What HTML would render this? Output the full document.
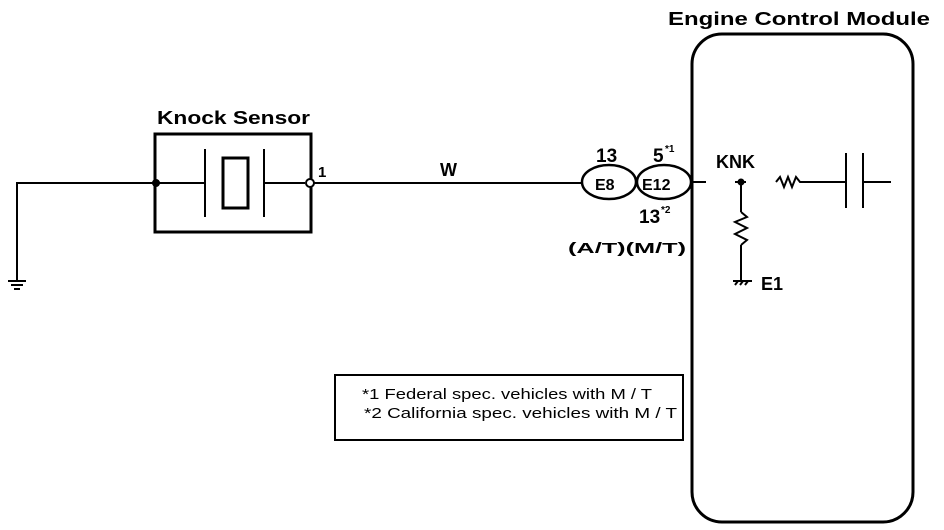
<!DOCTYPE html>
<html><head><style>
html,body{margin:0;padding:0;background:#fff;}
svg{display:block;}
text{font-family:"Liberation Sans",Arial,sans-serif;font-weight:bold;fill:#000;}
</style></head><body>
<svg width="944" height="530" viewBox="0 0 944 530" xmlns="http://www.w3.org/2000/svg">
<g stroke="#000" fill="none" stroke-width="2">
<rect x="692" y="34" width="221" height="488" rx="30" ry="30" stroke-width="3"/>
<rect x="155" y="134" width="156" height="98" stroke-width="3"/>
<polyline points="155,183 17,183 17,280"/>
<line x1="8" y1="281" x2="26" y2="281"/>
<line x1="11" y1="285" x2="23" y2="285"/>
<line x1="14" y1="289" x2="20" y2="289"/>
<line x1="155" y1="183" x2="205" y2="183"/>
<line x1="205" y1="149" x2="205" y2="217"/>
<rect x="223" y="158" width="25" height="50" stroke-width="3"/>
<line x1="264" y1="149" x2="264" y2="217"/>
<line x1="264" y1="183" x2="305" y2="183"/>
<circle cx="156" cy="183" r="3" fill="#000"/>
<circle cx="310" cy="183" r="4" fill="#fff"/>
<line x1="314" y1="183" x2="582" y2="183"/>
<ellipse cx="609" cy="182" rx="27" ry="17" stroke-width="2.5"/>
<ellipse cx="664" cy="182" rx="27" ry="17" stroke-width="2.5"/>
<line x1="691" y1="182" x2="706" y2="182"/>
<circle cx="741" cy="182" r="2.5" fill="#000"/>
<line x1="735" y1="182" x2="746" y2="182"/>
<line x1="741" y1="182" x2="741" y2="212"/>
<polyline points="741,212 747,217 735,222 747,228 735,234 747,240 741,245"/>
<line x1="741" y1="245" x2="741" y2="280"/>
<line x1="733" y1="281" x2="752" y2="281"/>
<line x1="735" y1="285" x2="738" y2="281"/>
<line x1="740" y1="285" x2="743" y2="281"/>
<line x1="745" y1="285" x2="748" y2="281"/>
<polyline points="776,182 780,177 784,187 788,177 792,187 796,177 800,182 846,182"/>
<line x1="846" y1="153" x2="846" y2="208"/>
<line x1="863" y1="153" x2="863" y2="208"/>
<line x1="863" y1="182" x2="891" y2="182"/>
<rect x="335" y="375" width="348" height="65"/>
</g>
<text x="668" y="25" font-size="18" textLength="262" lengthAdjust="spacingAndGlyphs">Engine Control Module</text>
<text x="157" y="124" font-size="18" textLength="153" lengthAdjust="spacingAndGlyphs">Knock Sensor</text>
<text x="318" y="177" font-size="15">1</text>
<text x="440" y="176" font-size="18">W</text>
<text x="596" y="162" font-size="19">13</text>
<text x="653" y="162" font-size="19">5</text>
<text x="665" y="152" font-size="10">*1</text>
<text x="595" y="190" font-size="16">E8</text>
<text x="642" y="190" font-size="16">E12</text>
<text x="639" y="223" font-size="19">13</text>
<text x="661" y="213" font-size="10">*2</text>
<text x="568" y="253" font-size="15" textLength="118" lengthAdjust="spacingAndGlyphs">(A/T)(M/T)</text>
<text x="716" y="168" font-size="18">KNK</text>
<text x="761" y="290" font-size="18">E1</text>
<text x="362" y="399" font-size="15" style="font-weight:normal" textLength="290" lengthAdjust="spacingAndGlyphs">*1 Federal spec. vehicles with M / T</text>
<text x="364" y="418" font-size="15" style="font-weight:normal" textLength="313" lengthAdjust="spacingAndGlyphs">*2  California spec. vehicles with M / T</text>
</svg>
</body></html>
